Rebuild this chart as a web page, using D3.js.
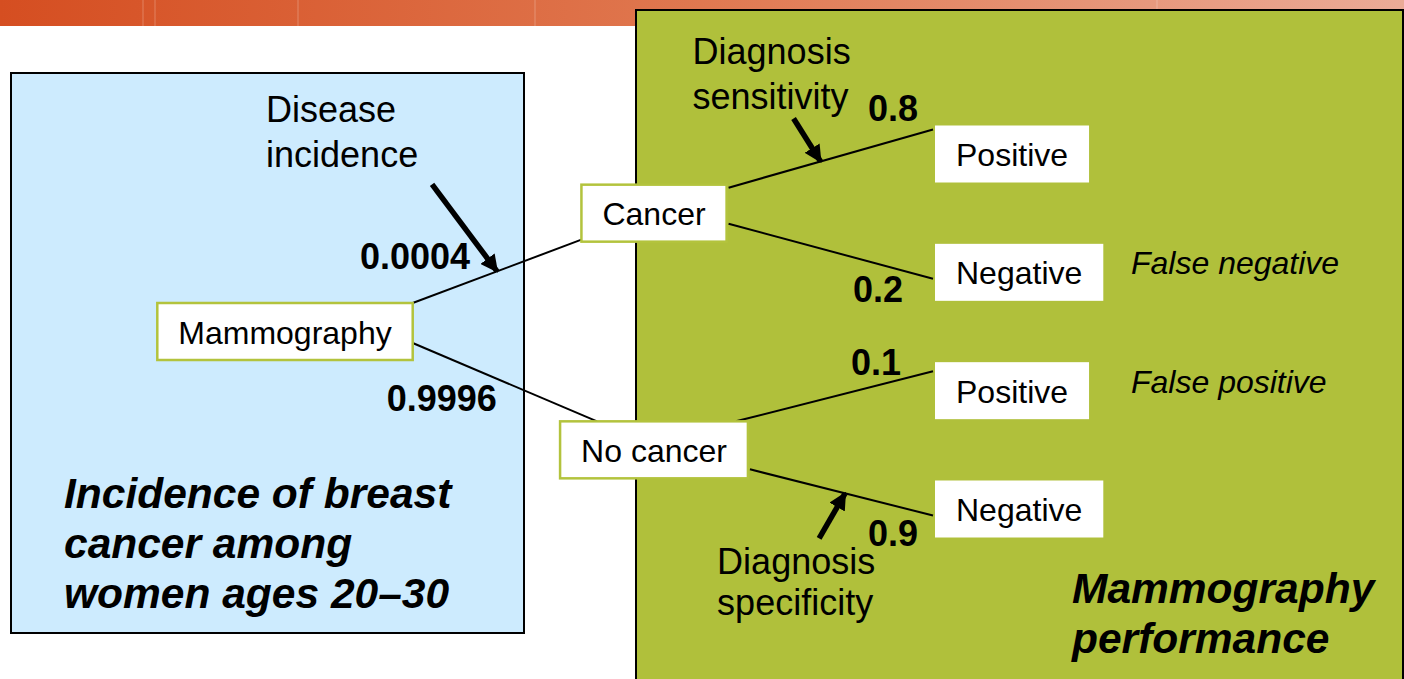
<!DOCTYPE html>
<html>
<head>
<meta charset="utf-8">
<script src="https://cdn.jsdelivr.net/npm/d3@7"></script>
<style>
  html, body { margin: 0; padding: 0; background: #fff; }
  svg { display: block; font-family: "Liberation Sans", Arial, sans-serif; }
</style>
</head>
<body>
<svg id="chart" width="1404" height="679"></svg>
<script>
// ---- data ----
const rootName      = 'Mammography';
const stateNames    = ['Cancer', 'No cancer'];
const stateProbs    = [0.0004, 0.9996];
const outcomeNames  = ['Positive', 'Negative'];
const outcomeProbs  = [[0.8, 0.2], [0.1, 0.9]];   // rows follow stateNames
const outcomeNotes  = [['', 'False negative'], ['False positive', '']];
const probLabels    = ['0.0004', '0.9996', '0.8', '0.2', '0.1', '0.9'];
const arrowNotes    = [
    ['Disease', 'incidence'],
    ['Diagnosis', 'sensitivity'],
    ['Diagnosis', 'specificity']
];
const panelTitles   = [
    ['Incidence of breast', 'cancer among', 'women ages 20\u201330'],
    ['Mammography', 'performance']
];

// ---- layout ----
const W = 1404, H = 679;
const boxH = 57, boxPad = 21, leafInset = 74;
const panels = {
    blue:  { x: 11,  y: 73, w: 513, h: 560, fill: '#cdebfe' },
    green: { x: 636, y: 10, w: 767, h: 700, fill: '#b0c03b' }
};
// link ports: [source dx from right edge, source dy from top, target dx from left, target dy from top]
const ports = [
    [0, 0, 0, 55],
    [0, 40, 37, 0],
    [2, 3, -2, 4],
    [2, 39, -2, 35],
    [-12, 0, -2, 9],
    [2, 48, -2, 35]
];
// probability label offsets relative to link (anchor = 'mid' or 'end'), text-anchor end
const labelPos = [
    ['mid', -27, -2],
    ['mid', -8, 29],
    ['end', -15, -9],
    ['end', -30, 23],
    ['end', -32, 4],
    ['end', -15, 30]
];
// arrow annotations: link index, position along link, tail offset from tip, text offset from tip
const arrowPos = [
    { link: 0, t: 0.5,  dx: -65, dy: -87, tx: -231, ty: -149 },
    { link: 2, t: 0.45, dx: -27, dy: -43, tx: -128, ty: -97 },
    { link: 5, t: 0.52, dx: -26, dy: 45,  tx: -128, ty: 81 }
];

const svg = d3.select('#chart');
const defs = svg.append('defs');

// header bar
const grad = defs.append('linearGradient').attr('id', 'bar').attr('x1', '0').attr('x2', '1');
grad.append('stop').attr('offset', '0%').attr('stop-color', '#d54e21');
grad.append('stop').attr('offset', '50%').attr('stop-color', '#e07850');
grad.append('stop').attr('offset', '100%').attr('stop-color', '#ebab97');
svg.append('rect').attr('x', 0).attr('y', 0).attr('width', W).attr('height', 26).attr('fill', 'url(#bar)');
svg.selectAll('line.streak')
    .data([143, 155, 298, 535, 1157])
    .enter().append('line')
    .attr('class', 'streak')
    .attr('x1', d => d).attr('x2', d => d).attr('y1', 0).attr('y2', 26)
    .attr('stroke', '#fff').attr('stroke-opacity', 0.25);

// panels
svg.selectAll('rect.panel')
    .data(Object.values(panels))
    .enter().append('rect')
    .attr('class', 'panel')
    .attr('x', d => d.x).attr('y', d => d.y)
    .attr('width', d => d.w).attr('height', d => d.h)
    .attr('fill', d => d.fill)
    .attr('stroke', '#000').attr('stroke-width', 2);

// ---- tree ----
const treeData = {
    name: rootName,
    children: stateNames.map((s, i) => ({
        name: s,
        prob: stateProbs[i],
        children: outcomeNames.map((o, j) => ({ name: o, prob: outcomeProbs[i][j], note: outcomeNotes[i][j] }))
    }))
};
const root = d3.hierarchy(treeData);
d3.cluster().nodeSize([1, 1]).separation(() => 1)(root);

const leaves = root.leaves();
const y = d3.scaleLinear().domain(d3.extent(leaves, d => d.x)).range([154, 509]);
const x = d3.scaleOrdinal().domain([0, 1, 2]).range([285, 654, 1009]);

// measure labels to size boxes
const labelSize = 32;
const measure = svg.append('text').attr('font-size', labelSize);
root.each(n => {
    measure.text(n.data.name);
    n.tw = measure.node().getComputedTextLength();
    n.w = n.tw + boxPad * 2;
    n.h = boxH;
    n.left = n.depth === 2 ? x(2) - leafInset : x(n.depth) - n.w / 2;
    n.top = y(n.x) - boxH / 2;
});
measure.remove();

const links = root.links();
links.forEach((l, i) => {
    const p = ports[i];
    l.x1 = l.source.left + l.source.w + p[0];
    l.y1 = l.source.top + p[1];
    l.x2 = l.target.left + p[2];
    l.y2 = l.target.top + p[3];
});

svg.selectAll('line.link')
    .data(links)
    .enter().append('line')
    .attr('class', 'link')
    .attr('x1', d => d.x1).attr('y1', d => d.y1)
    .attr('x2', d => d.x2).attr('y2', d => d.y2)
    .attr('stroke', '#000').attr('stroke-width', 2);

// node boxes
const nodes = svg.selectAll('g.node')
    .data(root.descendants())
    .enter().append('g')
    .attr('class', 'node');
nodes.append('rect')
    .attr('x', d => d.left).attr('y', d => d.top)
    .attr('width', d => d.w).attr('height', d => d.h)
    .attr('fill', '#fff')
    .attr('stroke', d => d.depth === 2 ? 'none' : '#b3c33d')
    .attr('stroke-width', 2.5);
nodes.append('text')
    .attr('x', d => d.left + d.w / 2)
    .attr('y', d => d.top + d.h / 2 + 12)
    .attr('text-anchor', 'middle')
    .attr('font-size', labelSize)
    .text(d => d.data.name);

// outcome notes
svg.selectAll('text.note')
    .data(leaves.filter(d => d.data.note))
    .enter().append('text')
    .attr('class', 'note')
    .attr('x', 1131)
    .attr('y', d => d.top + d.h / 2 + 2)
    .attr('font-size', 32)
    .attr('font-style', 'italic')
    .text(d => d.data.note);

// probability labels
svg.selectAll('text.prob')
    .data(links)
    .enter().append('text')
    .attr('class', 'prob')
    .attr('x', (d, i) => {
        const p = labelPos[i];
        return (p[0] === 'mid' ? (d.x1 + d.x2) / 2 : d.x2) + p[1];
    })
    .attr('y', (d, i) => {
        const p = labelPos[i];
        return (p[0] === 'mid' ? (d.y1 + d.y2) / 2 : d.y2) + p[2];
    })
    .attr('text-anchor', 'end')
    .attr('font-size', 36)
    .attr('font-weight', 'bold')
    .text((d, i) => probLabels[i]);

// arrows
defs.append('marker')
    .attr('id', 'head')
    .attr('viewBox', '0 0 10 10')
    .attr('refX', 9).attr('refY', 5)
    .attr('markerWidth', 3.2).attr('markerHeight', 3.2)
    .attr('markerUnits', 'strokeWidth')
    .attr('orient', 'auto')
    .append('path').attr('d', 'M0,0 L10,5 L0,10 Z').attr('fill', '#000');

arrowPos.forEach((a, i) => {
    const l = links[a.link];
    const tipX = l.x1 + (l.x2 - l.x1) * a.t, tipY = l.y1 + (l.y2 - l.y1) * a.t;
    svg.append('line')
        .attr('x1', tipX + a.dx).attr('y1', tipY + a.dy)
        .attr('x2', tipX).attr('y2', tipY)
        .attr('stroke', '#000').attr('stroke-width', 5.5)
        .attr('marker-end', 'url(#head)');
    svg.append('text')
        .attr('x', tipX + a.tx)
        .attr('y', tipY + a.ty)
        .attr('font-size', 36)
        .selectAll('tspan')
        .data(arrowNotes[i])
        .enter().append('tspan')
        .attr('x', tipX + a.tx)
        .attr('dy', (d, k) => k === 0 ? 0 : (i === 2 ? 41 : 45))
        .text(d => d);
});

// panel titles
const titleSpots = [{ x: 64, y: 508 }, { x: 1072, y: 603 }];
panelTitles.forEach((lines, i) => {
    svg.append('text')
        .attr('x', titleSpots[i].x).attr('y', titleSpots[i].y)
        .attr('font-size', 42.5)
        .attr('font-weight', 'bold')
        .attr('font-style', 'italic')
        .selectAll('tspan')
        .data(lines)
        .enter().append('tspan')
        .attr('x', titleSpots[i].x)
        .attr('dy', (d, k) => k === 0 ? 0 : 50)
        .text(d => d);
});
</script>
</body>
</html>
